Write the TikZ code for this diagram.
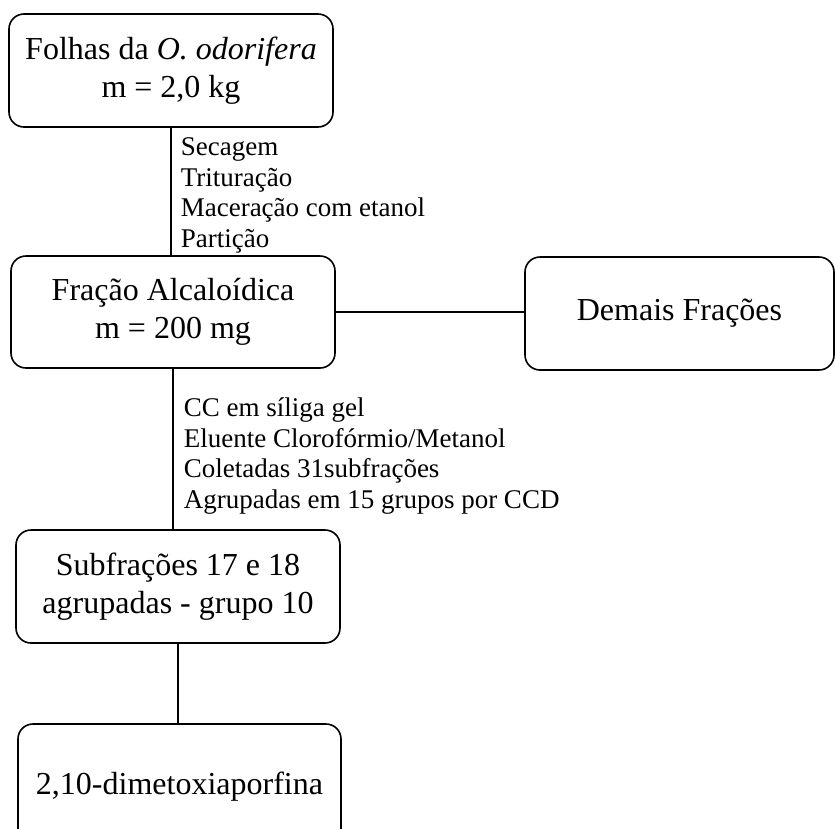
\documentclass[tikz,border=0pt]{standalone}
\usepackage{fontspec}
\setmainfont{Liberation Serif}
\begin{document}
\begin{tikzpicture}[x=1pt,y=-1pt,line width=1.6pt,
  caixa/.style={draw,rounded corners=15pt,inner sep=0pt,align=center,
    font=\fontsize{32}{38}\selectfont},
  rotulo/.style={inner sep=0pt,align=left,anchor=north west,
    font=\fontsize{27}{30.5}\selectfont}]
\clip (0,0) rectangle (835,828);

\node[caixa,minimum width=324pt,minimum height=113pt] (folhas) at (171,70.5)
  {Folhas da \textit{O. odorifera}\\m = 2,0 kg};
\node[caixa,minimum width=324pt,minimum height=112pt] (fracao) at (173,312)
  {Fração Alcaloídica\\m = 200 mg};
\node[caixa,minimum width=309pt,minimum height=113pt] (demais) at (679.5,313.5)
  {Demais Frações};
\node[caixa,minimum width=324pt,minimum height=113pt] (subfr) at (178,586.5)
  {Subfrações 17 e 18\\agrupadas - grupo 10};
\node[caixa,minimum width=323pt,minimum height=126pt] (dimet) at (179.5,787)
  {2,10-dimetoxiaporfina};

\draw (folhas.south) -- (folhas.south |- fracao.north);
\draw (fracao.east) -- (fracao.east -| demais.west);
\draw (fracao.south) -- (fracao.south |- subfr.north);
\draw (subfr.south) -- (subfr.south |- dimet.north);

\node[rotulo] (etapas) at (180,137)
  {Secagem\\Trituração\\Maceração com etanol\\Partição};
\node[rotulo] (coluna) at (183,397)
  {CC em síliga gel\\Eluente Clorofórmio/Metanol\\Coletadas 31subfrações\\Agrupadas em 15 grupos por CCD};
\end{tikzpicture}
\end{document}
